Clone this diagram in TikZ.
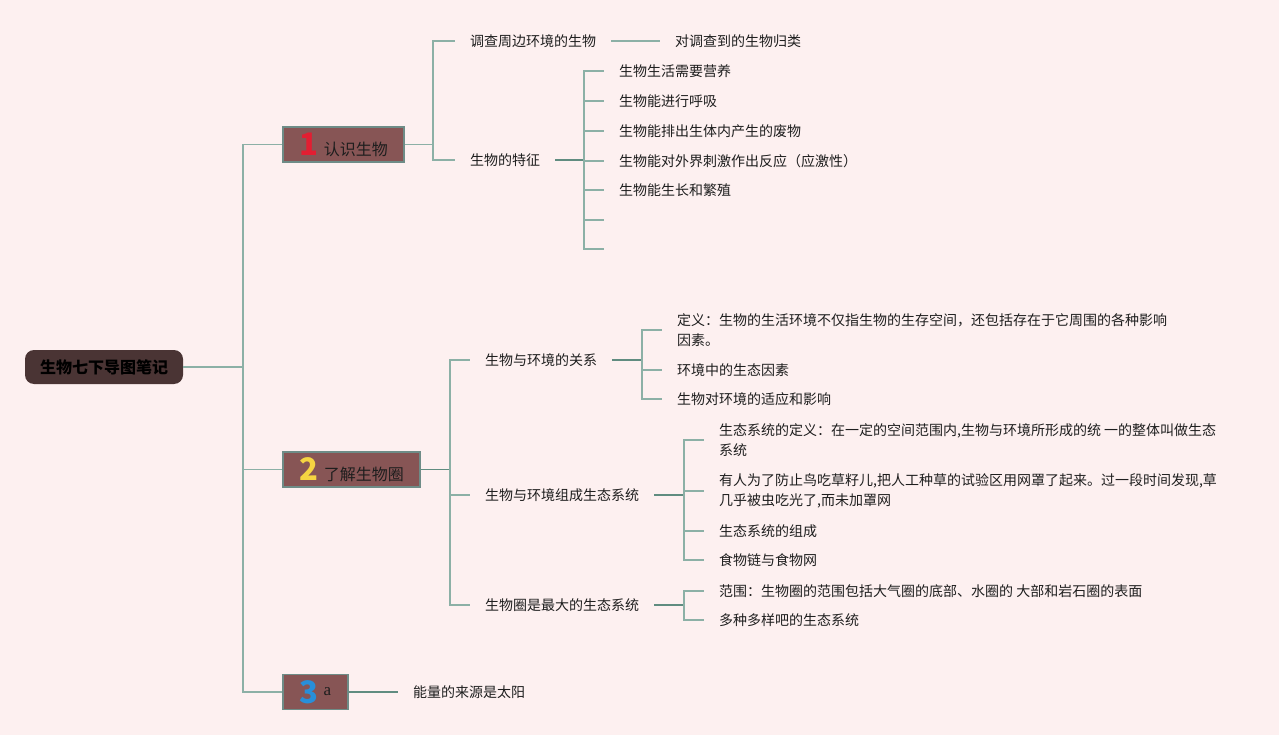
\documentclass[tikz,border=0pt]{standalone}
\usepackage{fontspec}
\setmainfont{Noto Sans CJK SC}
\newfontfamily\serifa{Liberation Serif}
\definecolor{bgc}{RGB}{253,240,240}
\definecolor{linec}{RGB}{140,176,166}
\definecolor{linedk}{RGB}{96,140,128}
\definecolor{boxfill}{RGB}{135,85,85}
\definecolor{boxline}{RGB}{110,140,135}
\definecolor{rootfill}{RGB}{74,52,52}
\definecolor{txt}{RGB}{30,30,30}
\definecolor{dred}{RGB}{226,30,50}
\definecolor{dyel}{RGB}{245,212,66}
\definecolor{dblu}{RGB}{40,143,217}
\newcommand{\bigdigit}[2]{{\color{#1}\fontsize{31}{31}\selectfont\bfseries #2}}
\tikzset{
  conn/.style={draw=linec, line width=1.3pt},
  conndk/.style={draw=linedk, line width=1.5pt},
  leaf/.style={anchor=west, inner xsep=15pt, inner ysep=2pt, text=txt, align=left,
    font=\fontsize{14}{20}\selectfont},
  branchbox/.style={draw=boxline, line width=1.5pt, fill=boxfill, minimum height=35pt,
    inner sep=0pt, text=txt, font=\fontsize{16}{20}\selectfont},
  rootbox/.style={fill=rootfill, rounded corners=9pt, minimum width=158pt, minimum height=34pt,
    inner sep=0pt, text=black, font=\fontsize{16}{20}\selectfont\bfseries}
}
\begin{document}
\begin{tikzpicture}[x=1pt,y=-1pt]
\fill[bgc] (0,0) rectangle (1279,735);
\useasboundingbox (0,0) rectangle (1279,735);

% root
\node[rootbox] (root) at (104,367) {生物七下导图笔记};
\coordinate (j0) at (243,367);

% branch boxes
\node[branchbox, minimum width=121pt] (b1) at (343.5,144.5)
  {\bigdigit{dred}{1}\hspace{6pt}认识生物};
\node[branchbox, minimum width=137pt] (b2) at (351.5,469.5)
  {\bigdigit{dyel}{2}\hspace{6pt}了解生物圈};
\node[branchbox, minimum width=65pt] (b3) at (315.5,692)
  {\bigdigit{dblu}{3}\hspace{5pt}\raisebox{8pt}{\serifa\fontsize{17}{17}\selectfont a}};

\draw[conn] (root.east) -- (j0);
\draw[conn] (j0) |- (b1.west);
\draw[conn] (j0) |- (b2.west);
\draw[conn] (j0) |- (b3.west);

% ---- branch 1
\coordinate (k1) at (433,144.5);
\node[leaf] (c11) at (455,41) {调查周边环境的生物};
\node[leaf] (c12) at (455,160) {生物的特征};
\draw[conn] (b1.east) -- (k1);
\draw[conn] (k1) |- (c11.west);
\draw[conn] (k1) |- (c12.west);

\node[leaf] (c111) at (660,41) {对调查到的生物归类};
\draw[conn] (c11.east) -- (c111.west);

\coordinate (k12) at (584,160);
\draw[conndk] (c12.east) -- (k12);
\node[leaf] (f1) at (604,71) {生物生活需要营养};
\node[leaf] (f2) at (604,101) {生物能进行呼吸};
\node[leaf] (f3) at (604,131) {生物能排出生体内产生的废物};
\node[leaf] (f4) at (604,161) {生物能对外界刺激作出反应（应激性）};
\node[leaf] (f5) at (604,190) {生物能生长和繁殖};
\node[leaf] (f6) at (604,220) {};
\node[leaf] (f7) at (604,249) {};
\foreach \n in {f1,f2,f3,f4,f5,f6,f7} \draw[conn] (k12) |- (\n.west);

% ---- branch 2
\coordinate (k2) at (450,469.5);
\draw[conndk] (b2.east) -- (k2);
\node[leaf] (d1) at (470,360) {生物与环境的关系};
\node[leaf] (d2) at (470,495) {生物与环境组成生态系统};
\node[leaf] (d3) at (470,605) {生物圈是最大的生态系统};
\foreach \n in {d1,d2,d3} \draw[conn] (k2) |- (\n.west);

\coordinate (k21) at (642,360);
\draw[conndk] (d1.east) -- (k21);
\node[leaf] (e1) at (662,330) {定义：生物的生活环境不仅指生物的生存空间，还包括存在于它周围的各种影响\\因素。};
\node[leaf] (e2) at (662,370) {环境中的生态因素};
\node[leaf] (e3) at (662,399) {生物对环境的适应和影响};
\foreach \n in {e1,e2,e3} \draw[conn] (k21) |- (\n.west);

\coordinate (k22) at (684,495);
\draw[conndk] (d2.east) -- (k22);
\node[leaf] (g1) at (704,440) {生态系统的定义：在一定的空间范围内,生物与环境所形成的统 一的整体叫做生态\\系统};
\node[leaf] (g2) at (704,491) {有人为了防止鸟吃草籽儿,把人工种草的试验区用网罩了起来。过一段时间发现,草\\几乎被虫吃光了,而未加罩网};
\node[leaf] (g3) at (704,531) {生态系统的组成};
\node[leaf] (g4) at (704,560) {食物链与食物网};
\foreach \n in {g1,g2,g3,g4} \draw[conn] (k22) |- (\n.west);

\coordinate (k23) at (684,605);
\draw[conndk] (d3.east) -- (k23);
\node[leaf] (h1) at (704,591) {范围：生物圈的范围包括大气圈的底部、水圈的 大部和岩石圈的表面};
\node[leaf] (h2) at (704,620) {多种多样吧的生态系统};
\foreach \n in {h1,h2} \draw[conn] (k23) |- (\n.west);

% ---- branch 3
\node[leaf] (m1) at (398,692) {能量的来源是太阳};
\draw[conndk] (b3.east) -- (m1.west);
\end{tikzpicture}
\end{document}
